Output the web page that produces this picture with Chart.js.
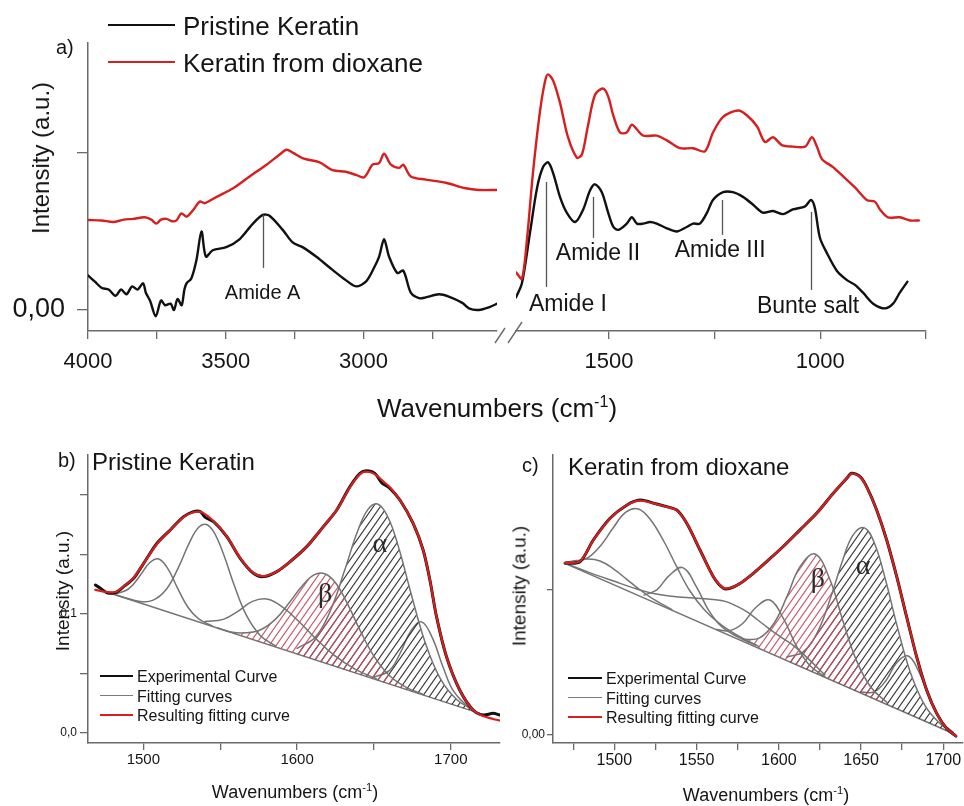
<!DOCTYPE html>
<html><head><meta charset="utf-8"><title>Keratin FTIR</title>
<script src="https://cdn.jsdelivr.net/npm/chart.js@4.4.1/dist/chart.umd.min.js"></script>
<style>
html,body{margin:0;padding:0;background:#fff;overflow:hidden}
#wrap{position:relative;width:964px;height:806px;font-family:"Liberation Sans",Arial,Helvetica,sans-serif;color:#151515}
#wrap canvas{position:absolute}
.t{position:absolute;white-space:nowrap;line-height:1}
.c{transform:translate(-50%,-50%)}
.l{transform:translateY(-50%)}
.r{transform:translate(-50%,-50%) rotate(-90deg)}
.ln{position:absolute;height:0}
sup{font-size:0.62em;line-height:0;vertical-align:0.6em}
</style></head><body><div id="wrap">
<canvas id="ca1" width="510" height="420" style="left:0;top:0"></canvas>
<canvas id="ca2" width="484" height="420" style="left:480px;top:0"></canvas>
<canvas id="cb" width="505" height="376" style="left:0;top:430px"></canvas>
<canvas id="cc" width="459" height="376" style="left:505px;top:430px"></canvas>

<div class="ln" style="left:108px;top:24px;width:67px;border-top:2.5px solid #111"></div>
<div class="t l" style="left:183px;top:26px;font-size:26px">Pristine Keratin</div>
<div class="ln" style="left:108px;top:61px;width:67px;border-top:2.5px solid #d61f1f"></div>
<div class="t l" style="left:183px;top:63px;font-size:26px">Keratin from dioxane</div>
<div class="t l" style="left:56px;top:47px;font-size:20px">a)</div>
<div class="t r" style="left:41px;top:158px;font-size:24px">Intensity (a.u.)</div>
<div class="t c" style="left:497px;top:408px;font-size:26px">Wavenumbers (cm<sup>-1</sup>)</div>

<div class="t l" style="left:58px;top:460px;font-size:20px">b)</div>
<div class="t l" style="left:92px;top:462px;font-size:24px">Pristine Keratin</div>
<div class="t r" style="left:62px;top:591px;font-size:19px">Intensity (a.u.)</div>
<div class="t c" style="left:295px;top:792px;font-size:18px">Wavenumbers (cm<sup>-1</sup>)</div>
<div class="ln" style="left:100px;top:675px;width:33px;border-top:2.5px solid #111"></div>
<div class="ln" style="left:100px;top:695px;width:33px;border-top:1.5px solid #7a7a7a"></div>
<div class="ln" style="left:100px;top:714px;width:33px;border-top:2.5px solid #d61f1f"></div>
<div class="t l" style="left:137px;top:677px;font-size:16px">Experimental Curve</div>
<div class="t l" style="left:137px;top:697px;font-size:16px">Fitting curves</div>
<div class="t l" style="left:137px;top:716px;font-size:16px">Resulting fitting curve</div>

<div class="t l" style="left:522px;top:465px;font-size:20px">c)</div>
<div class="t l" style="left:568px;top:467px;font-size:24px">Keratin from dioxane</div>
<div class="t r" style="left:519px;top:586px;font-size:19px">Intensity (a.u.)</div>
<div class="t c" style="left:766px;top:795px;font-size:18px">Wavenumbers (cm<sup>-1</sup>)</div>
<div class="ln" style="left:568px;top:677px;width:34px;border-top:2.5px solid #111"></div>
<div class="ln" style="left:568px;top:697px;width:34px;border-top:1.5px solid #7a7a7a"></div>
<div class="ln" style="left:568px;top:716px;width:34px;border-top:2.5px solid #d61f1f"></div>
<div class="t l" style="left:606px;top:679px;font-size:16px">Experimental Curve</div>
<div class="t l" style="left:606px;top:699px;font-size:16px">Fitting curves</div>
<div class="t l" style="left:606px;top:718px;font-size:16px">Resulting fitting curve</div>
</div>
<script>
// ---------------- DATA ----------------
// Panel a, high-wavenumber segment [wavenumber, intensity]
const aPristineHigh = [[4000,0.22],[3975,0.18],[3950,0.14],[3925,0.13],[3900,0.09],[3880,0.13],[3860,0.10],[3840,0.15],[3820,0.13],[3800,0.17],[3790,0.11],[3775,0.06],[3754,-0.04],[3735,0.06],[3720,0.03],[3700,0.04],[3688,0.00],[3675,0.07],[3660,0.03],[3650,0.13],[3642,0.17],[3625,0.20],[3606,0.32],[3588,0.50],[3572,0.34],[3547,0.38],[3498,0.40],[3450,0.45],[3401,0.55],[3365,0.605],[3341,0.60],[3293,0.51],[3257,0.43],[3221,0.40],[3172,0.34],[3112,0.255],[3064,0.19],[3027,0.15],[2991,0.18],[2961,0.27],[2943,0.34],[2925,0.45],[2907,0.34],[2877,0.235],[2855,0.25],[2828,0.11],[2798,0.075],[2774,0.08],[2726,0.10],[2690,0.085],[2641,0.045],[2617,0.01],[2581,0.0],[2540,0.02],[2515,0.04]];
const aDioxaneHigh = [[4000,0.573],[3950,0.57],[3909,0.56],[3870,0.575],[3837,0.58],[3794,0.59],[3770,0.575],[3752,0.55],[3735,0.575],[3715,0.58],[3695,0.565],[3679,0.57],[3661,0.615],[3642,0.594],[3618,0.637],[3594,0.69],[3576,0.68],[3533,0.72],[3473,0.775],[3413,0.85],[3352,0.925],[3304,0.99],[3279,1.02],[3255,1.0],[3219,0.965],[3159,0.94],[3112,0.89],[3064,0.88],[3027,0.86],[2997,0.845],[2967,0.925],[2943,0.935],[2925,0.995],[2900,0.925],[2870,0.905],[2855,0.925],[2828,0.85],[2774,0.83],[2701,0.81],[2629,0.775],[2581,0.764],[2515,0.764]];
// Panel a, fingerprint segment
const aPristineLow = [[1720,0.08],[1706,0.17],[1687,0.49],[1670,0.78],[1656,0.91],[1644,0.94],[1632,0.87],[1616,0.72],[1600,0.62],[1580,0.56],[1561,0.64],[1545,0.76],[1533,0.80],[1517,0.75],[1502,0.62],[1490,0.53],[1478,0.51],[1458,0.55],[1446,0.59],[1434,0.55],[1419,0.55],[1403,0.56],[1387,0.55],[1363,0.52],[1339,0.50],[1315,0.53],[1301,0.55],[1285,0.55],[1268,0.62],[1254,0.70],[1230,0.75],[1207,0.75],[1183,0.72],[1159,0.67],[1136,0.62],[1112,0.63],[1088,0.61],[1065,0.64],[1036,0.66],[1022,0.70],[1013,0.65],[1001,0.46],[984,0.36],[961,0.25],[937,0.19],[918,0.16],[899,0.11],[875,0.04],[847,0.01],[828,0.04],[812,0.11],[794,0.18]];
const aDioxaneLow = [[1720,0.24],[1706,0.20],[1694,0.45],[1680,0.87],[1663,1.27],[1651,1.46],[1644,1.50],[1632,1.46],[1616,1.32],[1597,1.10],[1576,0.97],[1564,0.99],[1550,1.17],[1533,1.37],[1514,1.41],[1502,1.36],[1490,1.24],[1474,1.13],[1458,1.13],[1446,1.18],[1434,1.15],[1419,1.11],[1387,1.11],[1363,1.08],[1332,1.03],[1301,1.03],[1273,1.01],[1254,1.13],[1230,1.23],[1195,1.27],[1174,1.24],[1150,1.17],[1131,1.07],[1112,1.10],[1091,1.05],[1065,1.04],[1036,1.04],[1020,1.10],[1008,1.04],[996,0.96],[970,0.91],[946,0.85],[918,0.78],[890,0.70],[871,0.69],[859,0.64],[840,0.59],[812,0.59],[788,0.57],[767,0.57]];
const aTicksHigh = [4000,3750,3500,3250,3000,2750];
const aLabelsHigh = ['4000','','3500','','3000',''];
const aTicksLow = [1500,1250,1000,750];
const aLabelsLow = ['1500','','1000',''];
const aTicksY = [0,1];
const aLabelsY = ['0,00',''];
// band markers: wavenumber, line top/bottom intensity, label anchor
const aBandsHigh = [{label:'Amide A', x:3366, top:0.605, bottom:0.268, lx:3366, ly:0.108}];
const aBandsLow = [
  {label:'Amide I', x:1649, top:0.815, bottom:0.146, lx:1597, ly:0.032},
  {label:'Amide II', x:1538, top:0.72, bottom:0.459, lx:1526, ly:0.357},
  {label:'Amide III', x:1233, top:0.70, bottom:0.478, lx:1237, ly:0.376},
  {label:'Bunte salt', x:1022, top:0.624, bottom:0.127, lx:1029, ly:0.019}];

// Panel b: pristine keratin amide I/II deconvolution
const bExperimental = [[1468.8,0.1244],[1472.1,0.1216],[1476.4,0.1179],[1481.8,0.1179],[1487.2,0.123],[1493.7,0.13],[1500.2,0.1426],[1508.9,0.1594],[1517.5,0.1706],[1526.2,0.1818],[1532.7,0.186],[1537,0.186],[1540.3,0.1812],[1545.7,0.1776],[1554.3,0.165],[1563,0.1468],[1571.6,0.1342],[1578.1,0.1314],[1586.8,0.1356],[1595.5,0.144],[1606.3,0.1566],[1617.1,0.1734],[1625.8,0.1874],[1634.4,0.207],[1640.9,0.2182],[1645.2,0.2204],[1650.6,0.2182],[1655,0.2104],[1660.4,0.2056],[1666.9,0.1958],[1675.5,0.1762],[1682,0.1538],[1686.4,0.1286],[1690.7,0.0978],[1697.2,0.0641],[1705.8,0.0361],[1714.5,0.0193],[1721,0.0151],[1727.5,0.0165],[1731.8,0.0151]];
const bResulting = [[1468.8,0.1203],[1476.4,0.1185],[1481.8,0.1185],[1487.2,0.1232],[1493.7,0.1305],[1500.2,0.1426],[1508.9,0.159],[1517.5,0.1706],[1526.2,0.1815],[1532.7,0.1855],[1538,0.1855],[1545.7,0.178],[1554.3,0.1652],[1563,0.147],[1571.6,0.1345],[1578.1,0.1318],[1586.8,0.1356],[1595.5,0.144],[1606.3,0.1566],[1617.1,0.1734],[1625.8,0.1874],[1634.4,0.2065],[1640.9,0.2175],[1645.2,0.2196],[1650.6,0.2175],[1656,0.2115],[1660.4,0.2065],[1666.9,0.1958],[1675.5,0.1762],[1682,0.1538],[1686.4,0.1286],[1690.7,0.0978],[1697.2,0.0641],[1705.8,0.0361],[1714.5,0.0193],[1721,0.0143],[1727.5,0.0118],[1731.8,0.0105]];
const bBaseline = [[1478.6,0.1174],[1718.8,0.0165]];
const bBand1510 = [[1478.6,0.1174],[1484,0.1177],[1491,0.1217],[1498,0.1325],[1504,0.1429],[1510,0.1462],[1516,0.1379],[1522,0.1224],[1529,0.1057],[1536,0.0959],[1545,0.0898]];
const bBand1541 = [[1478.6,0.1174],[1497,0.1108],[1506,0.1114],[1515,0.1208],[1523,0.1396],[1530,0.16],[1536,0.1728],[1541,0.1752],[1546,0.1686],[1552,0.1508],[1559,0.1245],[1567,0.099],[1576,0.082],[1586,0.0732]];
const bBand1581 = [[1540,0.0937],[1552,0.0955],[1562,0.1027],[1571,0.1106],[1581,0.1124],[1591,0.1054],[1601,0.0939],[1612,0.0795],[1624,0.0655],[1638,0.0535],[1652,0.0453]];
const bBandBeta = [[1548,0.0884],[1557,0.0849],[1566,0.0842],[1576,0.0866],[1586,0.0957],[1595,0.1096],[1603,0.1231],[1611,0.1328],[1618,0.1338],[1625,0.1262],[1633,0.1081],[1641,0.0862],[1650,0.0646],[1660,0.0483],[1671,0.0384],[1682,0.0323]];
const bBandAlpha = [[1600,0.0712],[1612,0.0806],[1622,0.1038],[1631,0.1369],[1639,0.1682],[1646,0.1877],[1652.4,0.1924],[1659,0.1817],[1666,0.1562],[1674,0.1179],[1683,0.0774],[1693,0.0462],[1704,0.028],[1716,0.0185]];
const bBand1681 = [[1650,0.0469],[1660,0.0524],[1667,0.0669],[1674,0.0858],[1681,0.0934],[1688,0.0799],[1695,0.0552],[1702,0.0347],[1712,0.0208]];
const bTicksX = [1500,1550,1600,1650,1700];
const bLabelsX = ['1500','','1600','','1700'];
const bTicksY = [0,0.05,0.1,0.15,0.2];
const bLabelsY = ['0,0','','0,1','',''];
const bGreek = [{t:'\u03B2', x:1618.2, y:0.116},{t:'\u03B1', x:1653.9, y:0.158}];

// Panel c: keratin from dioxane deconvolution
const cExperimental = [[1470,0.118],[1479.1,0.119],[1487.2,0.134],[1497.4,0.149],[1507.5,0.158],[1515.6,0.1615],[1525.8,0.1588],[1531.8,0.157],[1537.9,0.1547],[1544,0.1455],[1552.1,0.1271],[1560.2,0.1087],[1566.3,0.1007],[1570.3,0.1007],[1576.4,0.104],[1584.5,0.111],[1592.6,0.1191],[1602.7,0.1295],[1612.9,0.141],[1623,0.1524],[1633.1,0.1662],[1641.3,0.1765],[1644.3,0.18],[1649.4,0.1777],[1653.4,0.1708],[1659.5,0.1547],[1665.6,0.134],[1671.7,0.1087],[1677.7,0.0811],[1683.8,0.0535],[1689.9,0.0305],[1696,0.0144],[1702,0.0041],[1707.7,-0.0012]];
const cResulting = [[1470,0.1182],[1479.1,0.1192],[1487.2,0.1338],[1497.4,0.1488],[1507.5,0.158],[1515.6,0.1612],[1525.8,0.1586],[1531.8,0.1568],[1537.9,0.1545],[1544,0.1455],[1552.1,0.1271],[1560.2,0.1087],[1566.3,0.1009],[1570.3,0.1009],[1576.4,0.104],[1584.5,0.111],[1592.6,0.1191],[1602.7,0.1295],[1612.9,0.141],[1623,0.1524],[1633.1,0.1662],[1641.3,0.1765],[1644.3,0.1798],[1649.4,0.1775],[1653.4,0.1706],[1659.5,0.1547],[1665.6,0.134],[1671.7,0.1087],[1677.7,0.0811],[1683.8,0.0535],[1689.9,0.0305],[1696,0.0144],[1702,0.0041],[1707.7,-0.0012]];
const cBaseline = [[1470,0.1179],[1707,0.0]];
const cBand1515 = [[1470,0.1179],[1475,0.1189],[1484,0.1218],[1492,0.1306],[1499,0.1419],[1507,0.1532],[1514.6,0.1554],[1522,0.148],[1530,0.1333],[1538,0.1154],[1546,0.0988],[1555,0.0855],[1565,0.0755],[1576,0.0675],[1588,0.0605]];
const cBand1491 = [[1470,0.1185],[1477,0.1198],[1484,0.1208],[1491.3,0.1195],[1499,0.1145],[1507,0.1074],[1515,0.1001],[1524,0.093],[1535,0.086]];
const cBand1542 = [[1518,0.096],[1526,0.0998],[1533,0.1091],[1541.6,0.1149],[1550,0.1015],[1557,0.0862],[1565,0.0745],[1575,0.0672],[1586,0.0615]];
const cBand1560 = [[1470,0.1179],[1485,0.1115],[1500,0.1055],[1512,0.1008],[1523,0.0973],[1535,0.0952],[1548,0.094],[1560,0.093],[1568,0.0915],[1575,0.088],[1581,0.0842],[1587,0.079],[1593,0.0738],[1600,0.068],[1608,0.062],[1618,0.052],[1628,0.041]];
const cBand1595 = [[1562,0.0722],[1570,0.0715],[1578,0.0764],[1586,0.0874],[1594.6,0.0926],[1603,0.0794],[1611,0.0603],[1619,0.0473],[1628,0.0398]];
const cBandBeta = [[1578,0.0655],[1588,0.0663],[1597,0.0764],[1605,0.0951],[1613,0.1158],[1622,0.1243],[1631,0.1069],[1639,0.0782],[1647,0.0515],[1656,0.0324],[1666,0.0218]];
const cBandAlpha = [[1605,0.0534],[1615,0.057],[1624,0.0716],[1632,0.0959],[1639,0.1206],[1645,0.1372],[1651.8,0.1425],[1658,0.1322],[1665,0.1061],[1672,0.0744],[1680,0.0427],[1689,0.0196],[1698,0.0075],[1707,0.0]];
const cBand1679 = [[1650,0.0291],[1658,0.0293],[1665,0.0368],[1672,0.0498],[1678.7,0.054],[1685,0.0435],[1692,0.0236],[1699,0.0086],[1706,0.0015]];
const cTicksX = [1475,1500,1525,1550,1575,1600,1625,1650,1675,1700];
const cLabelsX = ['','1500','','1550','','1600','','1650','','1700'];
const cTicksY = [0,0.1];
const cLabelsY = ['0,00',''];
const cGreek = [{t:'\u03B2', x:1623.8, y:0.1064},{t:'\u03B1', x:1651.2, y:0.1154}];

// ---------------- STYLE / HELPERS ----------------
const FONT = '"Liberation Sans", Arial, Helvetica, sans-serif';
const AXIS = '#6a6a6a';
const BLACK = '#111111', RED = '#d61f1f', GRAY = '#747474';
const HATCH_RED = 'rgba(196,78,96,0.95)', HATCH_BLACK = 'rgba(45,45,45,0.95)';
Chart.defaults.font.family = FONT;
Chart.defaults.animation = false;

function xScale(o) {
  return {
    type:'linear', position:'bottom', min:o.min, max:o.max, reverse:!!o.reverse,
    afterBuildTicks: s => { s.ticks = o.ticks.map(v => ({value:v})); },
    afterFit: s => { s.height = o.h; },
    ticks: { autoSkip:false, maxRotation:0, minRotation:0, padding:o.pad, color:'#151515',
      font:{family:FONT, size:o.font},
      callback: v => { const i = o.ticks.indexOf(v); return i >= 0 ? o.labels[i] : ''; } },
    grid: { display:true, drawOnChartArea:false, drawTicks:true, tickLength:o.tl, color:AXIS, lineWidth:1.3 },
    border: { display:true, color:AXIS, width:1.5 }
  };
}
function yScale(o) {
  if (o.hidden) return { type:'linear', display:false, min:o.min, max:o.max };
  return {
    type:'linear', position:'left', min:o.min, max:o.max,
    afterBuildTicks: s => { s.ticks = o.ticks.map(v => ({value:v})); },
    afterFit: s => { s.width = o.w; },
    ticks: { autoSkip:false, padding:o.pad, color:'#151515', font:{family:FONT, size:o.font},
      callback: v => { const i = o.ticks.indexOf(v); return i >= 0 ? o.labels[i] : ''; } },
    grid: { display:true, drawOnChartArea:false, drawTicks:true, tickLength:o.tl, color:AXIS, lineWidth:1.3 },
    border: { display:true, color:AXIS, width:1.5 }
  };
}
function line(pairs, color, width, extra) {
  return Object.assign({
    data: pairs.map(p => ({x:p[0], y:p[1]})),
    borderColor: color, borderWidth: width, pointRadius: 0, pointHoverRadius: 0,
    tension: 0.3, fill: false, borderJoinStyle: 'round', borderCapStyle: 'round'
  }, extra || {});
}
function hatch(canvasId, color) {
  const w = 7, h = 10;
  const t = document.createElement('canvas'); t.width = w; t.height = h;
  const g = t.getContext('2d');
  g.strokeStyle = color; g.lineWidth = 1.15;
  g.beginPath();
  [-w, 0, w].forEach(dx => { g.moveTo(dx - w, 2 * h); g.lineTo(dx + 2 * w, -h); });
  g.stroke();
  return document.getElementById(canvasId).getContext('2d').createPattern(t, 'repeat');
}
const bandPlugin = {
  id: 'bands',
  afterDatasetsDraw(chart, args, opts) {
    const {ctx, scales:{x, y}} = chart;
    (opts.items || []).forEach(it => {
      const px = Math.round(x.getPixelForValue(it.x)) + 0.5;
      ctx.save();
      ctx.strokeStyle = '#555'; ctx.lineWidth = 1.3;
      ctx.beginPath();
      ctx.moveTo(px, y.getPixelForValue(it.top));
      ctx.lineTo(px, y.getPixelForValue(it.bottom));
      ctx.stroke();
      ctx.fillStyle = '#151515';
      ctx.font = (it.label === 'Amide A' ? opts.smallSize : opts.size) + 'px ' + FONT;
      ctx.textAlign = 'center'; ctx.textBaseline = 'middle';
      ctx.fillText(it.label, x.getPixelForValue(it.lx), y.getPixelForValue(it.ly));
      ctx.restore();
    });
  }
};
const greekPlugin = {
  id: 'greek',
  afterDatasetsDraw(chart, args, opts) {
    const {ctx, scales:{x, y}} = chart;
    (opts.items || []).forEach(it => {
      ctx.save();
      ctx.font = opts.size + 'px "Liberation Serif", "DejaVu Serif", serif';
      ctx.fillStyle = '#2a2a2a'; ctx.textAlign = 'center'; ctx.textBaseline = 'middle';
      ctx.fillText(it.t, x.getPixelForValue(it.x), y.getPixelForValue(it.y));
      ctx.restore();
    });
  }
};
const breakPlugin = {
  id: 'axisBreak',
  afterDraw(chart) {
    const {ctx, chartArea:{left, bottom}} = chart;
    ctx.save(); ctx.strokeStyle = AXIS; ctx.lineWidth = 1.4;
    ctx.beginPath();
    ctx.moveTo(left - 21, bottom + 12); ctx.lineTo(left - 11, bottom - 3);
    ctx.moveTo(left - 8, bottom + 12); ctx.lineTo(left + 6, bottom - 9);
    ctx.stroke(); ctx.restore();
  }
};
const common = (pad, scales, extraPlugins) => ({
  responsive:false, animation:false, events:[],
  layout:{ padding: pad },
  scales,
  plugins: Object.assign({ legend:{display:false}, tooltip:{enabled:false} }, extraPlugins || {})
});

// ---------------- PANEL a ----------------
const aY = { min:-0.134, max:1.70 };
new Chart(document.getElementById('ca1'), {
  type:'line',
  data:{ datasets:[ line(aDioxaneHigh, RED, 2.4), line(aPristineHigh, BLACK, 2.4) ] },
  options: common({left:0, right:13, top:43, bottom:0}, {
    x: xScale({min:2515, max:4000, reverse:true, ticks:aTicksHigh, labels:aLabelsHigh, h:89, pad:10, tl:8, font:22}),
    y: yScale({min:aY.min, max:aY.max, ticks:aTicksY, labels:aLabelsY, w:88, pad:12, tl:11, font:27})
  }, { bands:{ items:aBandsHigh, size:23, smallSize:20 } }),
  plugins:[bandPlugin]
});
new Chart(document.getElementById('ca2'), {
  type:'line',
  data:{ datasets:[ line(aDioxaneLow, RED, 2.4), line(aPristineLow, BLACK, 2.4) ] },
  options: common({left:36, right:38, top:43, bottom:0}, {
    x: xScale({min:750, max:1720, reverse:true, ticks:aTicksLow, labels:aLabelsLow, h:89, pad:10, tl:8, font:22}),
    y: yScale({min:aY.min, max:aY.max, hidden:true})
  }, { bands:{ items:aBandsLow, size:23, smallSize:20 } }),
  plugins:[bandPlugin, breakPlugin]
});

// ---------------- PANEL b ----------------
const fitStyle = { tension:0.4 };
new Chart(document.getElementById('cb'), {
  type:'line',
  data:{ datasets:[
    line(bResulting, RED, 2.2),
    line(bExperimental, BLACK, 3),
    line(bBand1510, GRAY, 1.5, fitStyle),
    line(bBand1541, GRAY, 1.5, fitStyle),
    line(bBand1581, GRAY, 1.5, fitStyle),
    line(bBandBeta, GRAY, 1.5, Object.assign({fill:8, backgroundColor:hatch('cb', HATCH_RED)}, fitStyle)),
    line(bBandAlpha, GRAY, 1.5, Object.assign({fill:8, backgroundColor:hatch('cb', HATCH_BLACK)}, fitStyle)),
    line(bBand1681, GRAY, 1.5, fitStyle),
    line(bBaseline, GRAY, 1.5, {tension:0})
  ]},
  options: common({left:0, right:5, top:25, bottom:0}, {
    x: xScale({min:1464, max:1732, ticks:bTicksX, labels:bLabelsX, h:63, pad:1, tl:7, font:15}),
    y: yScale({min:-0.0084, max:0.2336, ticks:bTicksY, labels:bLabelsY, w:88, pad:3, tl:8, font:12})
  }, { greek:{ items:bGreek, size:28 } }),
  plugins:[greekPlugin]
});

// ---------------- PANEL c ----------------
new Chart(document.getElementById('cc'), {
  type:'line',
  data:{ datasets:[
    line(cResulting, RED, 2.2),
    line(cExperimental, BLACK, 3),
    line(cBand1491, GRAY, 1.5, fitStyle),
    line(cBand1515, GRAY, 1.5, fitStyle),
    line(cBand1542, GRAY, 1.5, fitStyle),
    line(cBand1560, GRAY, 1.5, fitStyle),
    line(cBand1595, GRAY, 1.5, fitStyle),
    line(cBandBeta, GRAY, 1.5, Object.assign({fill:10, backgroundColor:hatch('cc', HATCH_RED)}, fitStyle)),
    line(cBandAlpha, GRAY, 1.5, Object.assign({fill:10, backgroundColor:hatch('cc', HATCH_BLACK)}, fitStyle)),
    line(cBand1679, GRAY, 1.5, fitStyle),
    line(cBaseline, GRAY, 1.5, {tension:0})
  ]},
  options: common({left:0, right:1, top:25, bottom:0}, {
    x: xScale({min:1462.7, max:1712, ticks:cTicksX, labels:cLabelsX, h:63, pad:1, tl:7, font:16}),
    y: yScale({min:-0.006, max:0.1926, ticks:cTicksY, labels:cLabelsY, w:48, pad:2, tl:6, font:12})
  }, { greek:{ items:cGreek, size:28 } }),
  plugins:[greekPlugin]
});
</script>
</body></html>
